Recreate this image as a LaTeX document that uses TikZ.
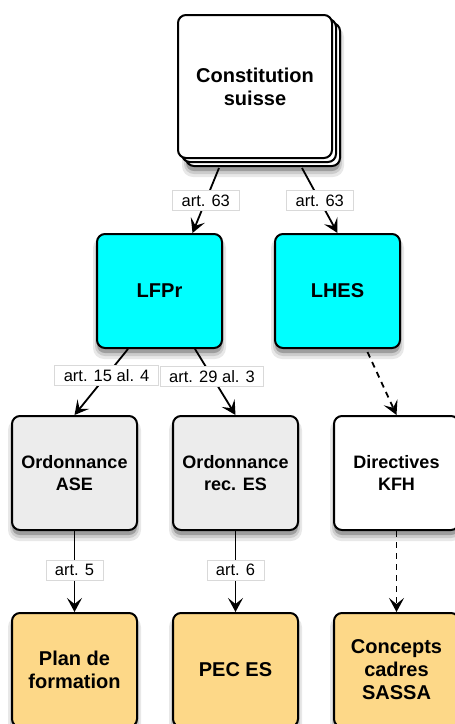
\documentclass[tikz,border=0pt]{standalone}
\usepackage{fontspec}
\setmainfont{Liberation Sans}
\usepackage{tikz}
\usetikzlibrary{arrows.meta}
\usetikzlibrary{shadows}
\usetikzlibrary{positioning}
\definecolor{lawcyan}{RGB}{0,255,255}
\definecolor{ordogray}{RGB}{236,236,236}
\definecolor{docorange}{RGB}{253,216,136}

\begin{document}
\begin{tikzpicture}[
  x=1pt, y=-1pt,
  > = {Stealth[length=14pt,width=15pt,inset=6pt]},
  box/.style = {draw, line width=2pt, rounded corners=8pt, minimum width=125pt, minimum height=114pt,
    align=center, font=\bfseries\fontsize{20}{23}\selectfont},
  law/.style = {box, fill=lawcyan},
  ordo/.style = {box, fill=ordogray, font=\bfseries\fontsize{18}{22}\selectfont},
  doc/.style = {box, fill=docorange},
  art/.style = {fill=white, draw=black!15, line width=0.7pt, inner xsep=9pt, inner ysep=2pt,
    minimum height=20pt, font=\fontsize{16.5}{18}\selectfont},
  link/.style = {->, line width=1.8pt},
  dashlink/.style = {link, dash pattern=on 6pt off 5pt}
  ]
	\useasboundingbox (0,0) rectangle (455,724);

	% soft shadows under the boxes
	\foreach \cx/\cy/\w/\h in {263/94.5/154/143, 159.5/291/125/114, 337.5/291/125/114,
	    74.5/473/125/114, 235.5/473/125/114, 396.5/473/125/114,
	    74.5/670/125/114, 235.5/670/125/114, 396.5/670/125/114} {
		\fill[black!9, rounded corners=11pt] ({\cx-\w/2-4},{\cy-\h/2+3}) rectangle ({\cx+\w/2+4},{\cy+\h/2+11});
		\fill[black!20, rounded corners=10pt] ({\cx-\w/2-2},{\cy-\h/2+3}) rectangle ({\cx+\w/2+2},{\cy+\h/2+8});
		\fill[black!38, rounded corners=8pt] ({\cx-\w/2},{\cy-\h/2+3}) rectangle ({\cx+\w/2},{\cy+\h/2+5});
	}

	% stack on top
	\node[box, fill=white, minimum width=154pt, minimum height=143pt,
	  double copy shadow={shadow xshift=4pt, shadow yshift=-4pt}] (const) at (255,86.5) {Constitution\\suisse};

	\node[law] (lfpr) at (159.5,291) {LFPr};
	\node[law] (lhes) at (337.5,291) {LHES};

	\node[ordo] (ase) at (74.5,473) {Ordonnance\\ASE};
	\node[ordo] (reces) at (235.5,473) {Ordonnance\\rec. ES};
	\node[ordo, fill=white] (kfh) at (396.5,473) {Directives\\KFH};

	\node[doc] (plan) at (74.5,670) {Plan de\\formation};
	\node[doc] (pec) at (235.5,670) {PEC ES};
	\node[doc] (sassa) at (396.5,670) {Concepts\\cadres\\SASSA};

	\draw[link] ([xshift=-36pt,yshift=-9pt]const.south) -- node[art] {art. 63} ([xshift=33pt]lfpr.north);
	\draw[link] ([xshift=47pt,yshift=-9pt]const.south) -- node[art] {art. 63} (lhes.north);

	\draw[link] ([xshift=-31.5pt]lfpr.south) -- node[art, pos=0.4] {art. 15 al. 4} (ase.north);
	\draw[link] ([xshift=35.5pt]lfpr.south) -- node[art, pos=0.42] {art. 29 al. 3} (reces.north);
	\draw[dashlink] ([xshift=30pt,yshift=-3pt]lhes.south) -- (kfh.north);

	\draw[link] (ase) -- node[art, pos=0.48] {art. 5} (plan);
	\draw[link] (reces) -- node[art, pos=0.48] {art. 6} (pec);
	\draw[dashlink] (kfh) -- (sassa);

\end{tikzpicture}
\end{document}
